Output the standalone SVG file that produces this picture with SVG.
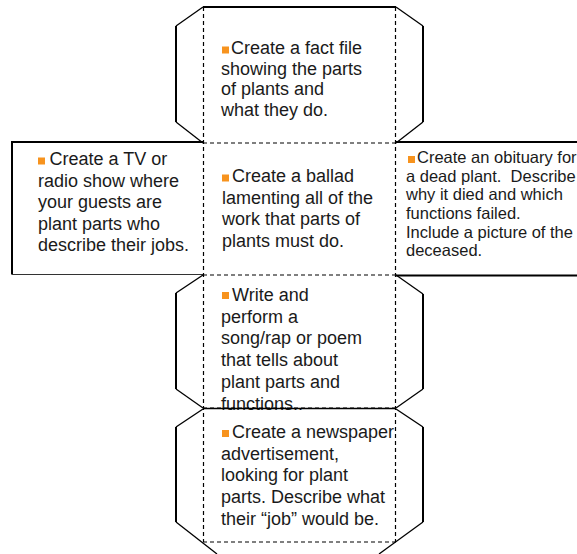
<svg xmlns="http://www.w3.org/2000/svg" width="577" height="554" viewBox="0 0 577 554">
<style>
.thick{stroke:#000;stroke-width:2;fill:none}
.diag{stroke:#000;stroke-width:1.3;fill:none}
.dash{stroke:#000;stroke-width:1.2;stroke-dasharray:4 3;fill:none}
.thin{stroke:#333;stroke-width:1;fill:none}
.t{font-family:"Liberation Sans",Arial,sans-serif;font-size:18px;fill:#1a1a1a}
.ts{font-family:"Liberation Sans",Arial,sans-serif;font-size:16.5px;fill:#1a1a1a}
.b{fill:#F7931E}
</style>
<rect width="577" height="554" fill="#fff"/>
<g id="face-top">
<line class="thick" x1="203" y1="7" x2="396" y2="7"/>
<polyline class="diag" points="203,7 176,26"/>
<line class="thick" x1="176" y1="26" x2="176" y2="122"/>
<polyline class="diag" points="176,122 203,143"/>
<polyline class="diag" points="396,7 423,26"/>
<line class="thick" x1="423" y1="26" x2="423" y2="122"/>
<polyline class="diag" points="423,122 396,143"/>
<rect class="b" x="222" y="46.5" width="7" height="7"/>
<text class="t"><tspan x="231" y="54">Create a fact file</tspan><tspan x="221" y="74.5">showing the parts</tspan><tspan x="221" y="95">of plants and</tspan><tspan x="221" y="115.5">what they do.</tspan></text>
</g>
<g id="face-left">
<line class="thick" x1="11" y1="142" x2="203" y2="142"/>
<line class="thick" x1="12" y1="141" x2="12" y2="274.5"/>
<line class="thin" x1="12" y1="274.5" x2="203" y2="274.5"/>
<rect class="b" x="38" y="157.5" width="7" height="7"/>
<text class="t"><tspan x="49.5" y="165">Create a TV or</tspan><tspan x="38" y="186.5">radio show where</tspan><tspan x="38" y="208">your guests are</tspan><tspan x="38" y="229.5">plant parts who</tspan><tspan x="38" y="251">describe their jobs.</tspan></text>
</g>
<g id="face-center">
<rect class="b" x="222" y="174.5" width="7" height="7"/>
<text class="t"><tspan x="232" y="182">Create a ballad</tspan><tspan x="222" y="203.5">lamenting all of the</tspan><tspan x="222" y="225">work that parts of</tspan><tspan x="222" y="246.5">plants must do.</tspan></text>
</g>
<g id="face-right">
<line class="thick" x1="396" y1="142" x2="577" y2="142"/>
<line class="thick" x1="396" y1="275.5" x2="577" y2="275.5"/>
<rect class="b" x="408" y="156" width="7" height="7"/>
<text class="ts"><tspan x="417" y="163">Create an obituary for</tspan><tspan x="406" y="181.5">a dead plant.&#160; Describe</tspan><tspan x="406" y="200">why it died and which</tspan><tspan x="406" y="218.5">functions failed.</tspan><tspan x="406" y="237.5">Include a picture of the</tspan><tspan x="406" y="256">deceased.</tspan></text>
</g>
<g id="face-song">
<polyline class="diag" points="203,275 176,293"/>
<line class="thick" x1="176" y1="293" x2="176" y2="389"/>
<polyline class="diag" points="176,389 203,408"/>
<polyline class="diag" points="396,275 423,294"/>
<line class="thick" x1="423" y1="294" x2="423" y2="389"/>
<polyline class="diag" points="423,389 396,408"/>
<rect class="b" x="222" y="292" width="7" height="7"/>
<text class="t"><tspan x="232" y="301">Write and</tspan><tspan x="221" y="322.5">perform a</tspan><tspan x="221" y="344">song/rap or poem</tspan><tspan x="221" y="366">that tells about</tspan><tspan x="221" y="388">plant parts and</tspan><tspan x="221" y="410">functions..</tspan></text>
</g>
<g id="face-newspaper">
<line class="diag" x1="203" y1="408.5" x2="396" y2="408.5"/>
<polyline class="diag" points="203,409 176,427"/>
<line class="thick" x1="176" y1="427" x2="176" y2="522"/>
<polyline class="diag" points="176,522 217,554"/>
<polyline class="diag" points="396,409 423,427"/>
<line class="thick" x1="423" y1="427" x2="423" y2="522"/>
<polyline class="diag" points="423,522 379,554"/>
<rect class="b" x="222" y="430" width="7" height="7"/>
<text class="t"><tspan x="232" y="438">Create a newspaper</tspan><tspan x="221" y="459.5">advertisement,</tspan><tspan x="221" y="481">looking for plant</tspan><tspan x="221" y="503">parts. Describe what</tspan><tspan x="221" y="525">their “job” would be.</tspan></text>
</g>
<g id="connectors">
<line class="dash" x1="203.5" y1="7" x2="203.5" y2="542"/>
<line class="dash" x1="395.5" y1="7" x2="395.5" y2="542"/>
<line class="dash" x1="203" y1="143" x2="396" y2="143"/>
<line class="dash" x1="203" y1="275" x2="396" y2="275"/>
<line class="dash" x1="203" y1="408" x2="396" y2="408"/>
<line class="dash" x1="203" y1="542" x2="396" y2="542"/>
</g>
</svg>
